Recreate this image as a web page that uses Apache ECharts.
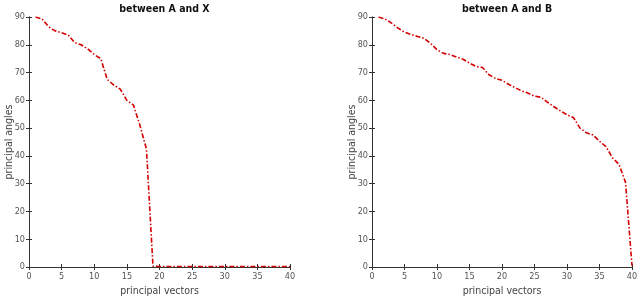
<!DOCTYPE html>
<html>
<head>
<meta charset="utf-8">
<script src="https://cdn.jsdelivr.net/npm/echarts@6/dist/echarts.min.js"></script>
<style>html,body{margin:0;padding:0;background:#fff}#c{width:640px;height:297px}</style>
</head>
<body>
<div id="c"></div>
<script>
var titles = ['between A and X', 'between A and B'];
var xName = 'principal vectors';
var yName = 'principal angles';
var xVals = [1,2,3,4,5,6,7,8,9,10,11,12,13,14,15,16,17,18,19,20,21,22,23,24,25,26,27,28,29,30,31,32,33,34,35,36,37,38,39,40];
var anglesAX = [90,89.3,86.5,85,84.3,83.5,80.8,80,78.5,76.5,75,67.5,65.5,64,60,58.3,51,42.5,0.3,0.2,0.2,0.2,0.2,0.2,0.2,0.2,0.2,0.2,0.2,0.2,0.2,0.2,0.2,0.2,0.2,0.2,0.2,0.2,0.2,0.2];
var anglesAB = [90,89.3,87.8,86,84.6,83.7,83,82.3,80.5,78.2,76.9,76.5,75.6,74.8,73.4,72.2,71.8,69.2,67.9,67.2,65.8,64.6,63.4,62.6,61.5,61.1,59.3,57.7,56.2,54.8,53.8,50.0,48.3,47.5,45.3,43.3,39.3,37,30.5,0.5];

var font = '"DejaVu Sans Condensed", "DejaVu Sans", sans-serif';
var axisColor = '#333';
var labelColor = '#555';

function pairs(ys){ return xVals.map(function(x,i){ return [x, ys[i]]; }); }

var grids = [
  {left: 29, right: 350, top: 17, bottom: 30, containLabel: false, outerBoundsMode: 'none'},
  {left: 372, right: 8, top: 17, bottom: 30, containLabel: false, outerBoundsMode: 'none'}
];

var xAxes = [], yAxes = [], series = [], titleArr = [];
[anglesAX, anglesAB].forEach(function(data, g){
  var gr = grids[g];
  var cx = gr.left + (640 - gr.left - gr.right) / 2;
  titleArr.push({text: titles[g], left: cx, top: -1, textAlign: 'center',
    textStyle: {fontFamily: font, fontSize: 10.5, fontWeight: 'bold', color: '#111'}});
  xAxes.push({gridIndex: g, type: 'value', min: 0, max: 40, interval: 5, position: 'bottom',
    name: xName, nameLocation: 'middle', nameGap: 19, nameMoveOverlap: false,
    nameTextStyle: {fontFamily: font, fontSize: 10.5, color: '#444'},
    axisLine: {lineStyle: {color: axisColor, width: 1}},
    axisTick: {inside: true, length: 3, lineStyle: {color: axisColor}},
    axisLabel: {fontFamily: font, fontSize: 9, color: labelColor, margin: 5},
    splitLine: {show: false}});
  xAxes.push({gridIndex: g, type: 'value', min: 0, max: 40, interval: 5, position: 'top',
    axisLine: {lineStyle: {color: axisColor, width: 1}},
    axisTick: {inside: true, length: 3, lineStyle: {color: axisColor}},
    axisLabel: {show: false}, splitLine: {show: false}});
  yAxes.push({gridIndex: g, type: 'value', min: 0, max: 90, interval: 10, position: 'left',
    name: yName, nameLocation: 'middle', nameGap: 14, nameRotate: 90, nameMoveOverlap: false,
    nameTextStyle: {fontFamily: font, fontSize: 10.5, color: '#444'},
    axisLine: {show: true, lineStyle: {color: axisColor, width: 1}},
    axisTick: {show: true, inside: true, length: 3, lineStyle: {color: axisColor}},
    axisLabel: {fontFamily: font, fontSize: 9, color: labelColor, margin: 4},
    splitLine: {show: false}});
  yAxes.push({gridIndex: g, type: 'value', min: 0, max: 90, interval: 10, position: 'right',
    axisLine: {show: true, lineStyle: {color: axisColor, width: 1}},
    axisTick: {show: true, inside: true, length: 3, lineStyle: {color: axisColor}},
    axisLabel: {show: false}, splitLine: {show: false}});
  series.push({type: 'line', xAxisIndex: g * 2, yAxisIndex: g * 2, data: pairs(data),
    showSymbol: false, symbol: 'none', animation: false,
    lineStyle: {color: '#d40000', width: 1.6, type: [5, 2, 1.5, 2]}});
});

var chart = echarts.init(document.getElementById('c'), null, {renderer: 'canvas'});
chart.setOption({
  animation: false,
  backgroundColor: '#fff',
  title: titleArr,
  grid: grids,
  xAxis: xAxes,
  yAxis: yAxes,
  series: series
});
</script>
</body>
</html>
